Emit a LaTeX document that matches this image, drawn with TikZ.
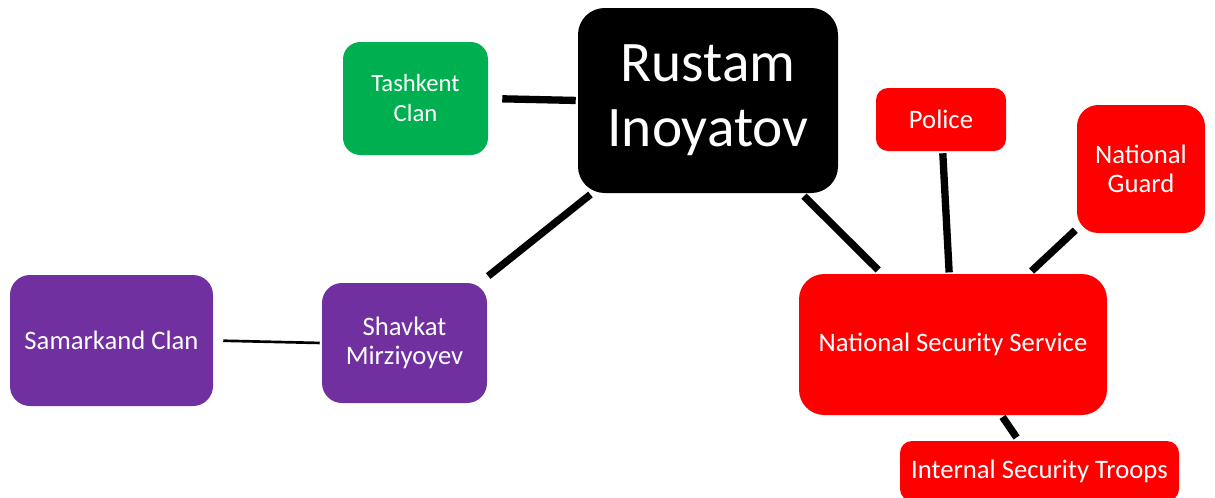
\documentclass[tikz,border=0pt]{standalone}
\usepackage{fontspec}
\setmainfont{Carlito}
\definecolor{cgreen}{RGB}{0,176,80}
\definecolor{cpurple}{RGB}{112,48,160}
\definecolor{cred}{RGB}{255,0,0}
\begin{document}
\begin{tikzpicture}[x=0.75pt,y=-0.75pt,
  box/.style={rectangle,inner sep=0pt,text=white,align=center,draw=none,
    font=\fontsize{20pt}{22pt}\selectfont},
  thick link/.style={line width=5.5pt,draw=black},
  thin link/.style={line width=2pt,draw=black}]
\useasboundingbox (0,0) rectangle (1215,497);
\node[box,fill=black,rounded corners=20pt,minimum width=195pt,minimum height=138.75pt,
  font=\fontsize{43pt}{49pt}\selectfont] (rustam) at (708,100.5) {Rustam\\Inoyatov};
\node[box,fill=cgreen,rounded corners=13pt,minimum width=108.75pt,minimum height=84.75pt,
  font=\fontsize{18.5pt}{22.5pt}\selectfont] (tash) at (415.5,98.5) {Tashkent\\Clan};
\node[box,fill=cred,rounded corners=9pt,minimum width=97.5pt,minimum height=47.25pt] (police) at (941,119.5) {Police};
\node[box,fill=cred,rounded corners=16pt,minimum width=96pt,minimum height=96pt] (guard) at (1141,169) {National\\Guard};
\node[box,fill=cred,rounded corners=19pt,minimum width=231pt,minimum height=105.75pt] (nss) at (953,344.5) {National Security Service};
\node[box,fill=cred,rounded corners=9pt,minimum width=209.25pt,minimum height=45pt] (ist) at (1039.5,471) {Internal Security Troops};
\node[box,fill=cpurple,rounded corners=15pt,minimum width=123.75pt,minimum height=90pt] (shav) at (404.5,343) {Shavkat\\Mirziyoyev};
\node[box,fill=cpurple,rounded corners=15pt,minimum width=152.25pt,minimum height=98.25pt] (samar) at (111.5,340.5) {Samarkand Clan};
\draw[thick link,shorten <=10.5pt,shorten >=1.5pt] (tash.east) -- (rustam.west);
\draw[thick link,shorten <=1.5pt,shorten >=8pt] (rustam) -- (shav);
\draw[thick link,shorten <=3pt,shorten >=4pt] (rustam) -- (nss);
\draw[thick link,shorten <=1.5pt,shorten >=1pt] (police) -- (nss);
\draw[thick link,shorten <=1.5pt,shorten >=3pt] (guard) -- (nss);
\draw[thick link,shorten <=1.5pt,shorten >=3pt] (nss) -- (ist);
\draw[thin link,shorten <=7.5pt,shorten >=1.5pt] (samar.east) -- (shav.west);
\end{tikzpicture}
\end{document}
